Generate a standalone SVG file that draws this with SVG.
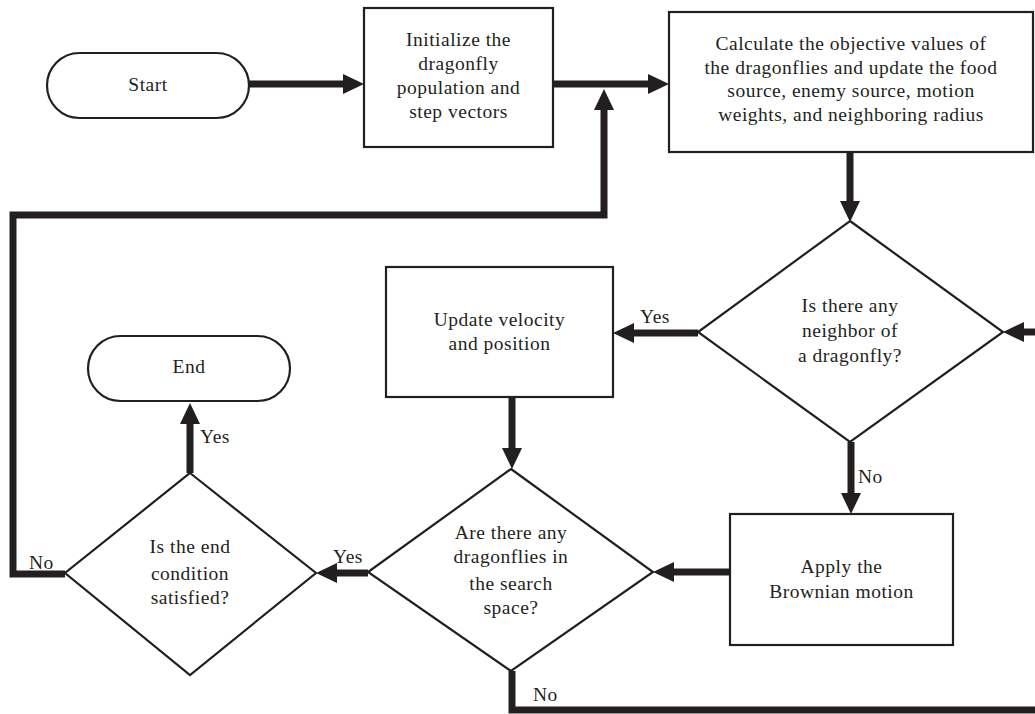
<svg xmlns="http://www.w3.org/2000/svg" width="1035" height="714" viewBox="0 0 1035 714">
<style>
.shape{fill:#fff;stroke:#231f20;stroke-width:2.2}
.t{font-family:"Liberation Serif","Times New Roman",serif;font-size:19.5px;letter-spacing:0.5px;fill:#231f20;text-anchor:middle}
.lbl{font-family:"Liberation Serif","Times New Roman",serif;font-size:19.5px;letter-spacing:0.5px;fill:#231f20}
.c{fill:none;stroke:#231f20;stroke-width:7;stroke-linejoin:miter}
</style>
<defs>
<marker id="ah" markerUnits="userSpaceOnUse" markerWidth="22" markerHeight="22" refX="0" refY="10" orient="auto">
<path d="M0,0 L21,10 L0,20 z" fill="#231f20"/>
</marker>
</defs>
<rect width="1035" height="714" fill="#fff"/>
<g id="connectors">
<path class="c" d="M249,84 L343,84" marker-end="url(#ah)"/>
<path class="c" d="M553,84 L648,84" marker-end="url(#ah)"/>
<path class="c" d="M850,152 L850,201" marker-end="url(#ah)"/>
<path class="c" d="M1035,332 L1024,332" marker-end="url(#ah)"/>
<path class="c" d="M698,333 L634,333" marker-end="url(#ah)"/>
<path class="c" d="M851,442 L851,493" marker-end="url(#ah)"/>
<path class="c" d="M512,397 L512,448" marker-end="url(#ah)"/>
<path class="c" d="M730,572 L674,572" marker-end="url(#ah)"/>
<path class="c" d="M368,573 L337,573" marker-end="url(#ah)"/>
<path class="c" d="M190,473 L190,424" marker-end="url(#ah)"/>
<path class="c" d="M65,574 L13,574 L13,215 L604,215 L604,110" marker-end="url(#ah)"/>
<path class="c" d="M512,671 L512,710 L1035,710"/>
<text class="lbl" x="640" y="323">Yes</text>
<text class="lbl" x="858" y="483">No</text>
<text class="lbl" x="333" y="563">Yes</text>
<text class="lbl" x="200" y="443">Yes</text>
<text class="lbl" x="29" y="569">No</text>
<text class="lbl" x="533" y="701">No</text>
</g>
<g id="start">
<rect class="shape" x="47" y="53" width="202" height="65" rx="32.5"/>
<text class="t" x="148" y="91">Start</text>
</g>
<g id="init">
<rect class="shape" x="364" y="8" width="189" height="139"/>
<text class="t" x="458.5" y="46">Initialize the</text>
<text class="t" x="458.5" y="70">dragonfly</text>
<text class="t" x="458.5" y="94">population and</text>
<text class="t" x="458.5" y="118">step vectors</text>
</g>
<g id="calc">
<rect class="shape" x="669" y="12" width="364" height="140"/>
<text class="t" x="851" y="50">Calculate the objective values of</text>
<text class="t" x="851" y="74">the dragonflies and update the food</text>
<text class="t" x="851" y="97">source, enemy source, motion</text>
<text class="t" x="851" y="121">weights, and neighboring radius</text>
</g>
<g id="neighbor">
<polygon class="shape" points="850,221 1003,332 850,442 698,332"/>
<text class="t" x="850" y="312">Is there any</text>
<text class="t" x="850" y="337">neighbor of</text>
<text class="t" x="850" y="362">a dragonfly?</text>
</g>
<g id="update">
<rect class="shape" x="386" y="267" width="227" height="130"/>
<text class="t" x="499.5" y="326">Update velocity</text>
<text class="t" x="499.5" y="350">and position</text>
</g>
<g id="brownian">
<rect class="shape" x="730" y="514" width="223" height="131"/>
<text class="t" x="841.5" y="573">Apply the</text>
<text class="t" x="841.5" y="598">Brownian motion</text>
</g>
<g id="search">
<polygon class="shape" points="511,469 653,572 511,671 368,572"/>
<text class="t" x="511" y="539">Are there any</text>
<text class="t" x="511" y="563">dragonflies in</text>
<text class="t" x="511" y="590">the search</text>
<text class="t" x="511" y="614">space?</text>
</g>
<g id="endcond">
<polygon class="shape" points="190,473 316,573 190,675 65,573"/>
<text class="t" x="190" y="553">Is the end</text>
<text class="t" x="190" y="580">condition</text>
<text class="t" x="190" y="604">satisfied?</text>
</g>
<g id="end">
<rect class="shape" x="88" y="336" width="202" height="65" rx="32.5"/>
<text class="t" x="189" y="373">End</text>
</g>
</svg>
